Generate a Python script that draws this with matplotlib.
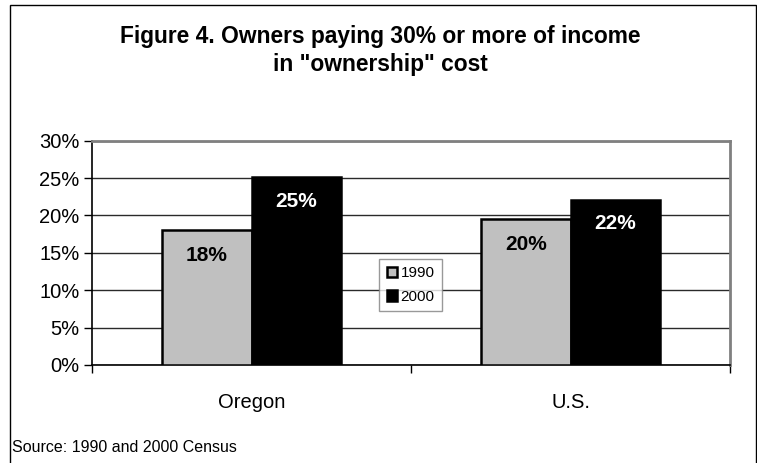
import matplotlib
matplotlib.use("Agg")
import matplotlib.pyplot as plt
import numpy as np
from matplotlib.patches import Rectangle

plt.rcParams['font.family'] = ['Liberation Sans', 'DejaVu Sans']

# data
places = ["Oregon", "U.S."]
years = ["1990", "2000"]
pct_1990 = [18.0, 19.5]
pct_2000 = [25.1, 22.1]
labels_1990 = ["18%", "20%"]
labels_2000 = ["25%", "22%"]

fig = plt.figure(figsize=(7.57, 4.63), dpi=100)
W, H = 757, 463
ax = fig.add_axes([92/W, 1-365/H, (730-92)/W, (365-140.7)/H])

x = np.arange(len(places))
w = 0.28
b1 = ax.bar(x - w/2, pct_1990, w, color="#c0c0c0", edgecolor="black", linewidth=1.8, label=years[0], zorder=3)
b2 = ax.bar(x + w/2, pct_2000, w, color="black", edgecolor="black", linewidth=1.8, label=years[1], zorder=3)

for rect, lab in zip(b1, labels_1990):
    ax.annotate(lab, (rect.get_x() + rect.get_width()/2, rect.get_height()),
                xytext=(0, -25), textcoords="offset pixels", ha="center", va="center",
                fontsize=15, fontweight="bold", color="black", zorder=4)
for rect, lab in zip(b2, labels_2000):
    ax.annotate(lab, (rect.get_x() + rect.get_width()/2, rect.get_height()),
                xytext=(0, -24), textcoords="offset pixels", ha="center", va="center",
                fontsize=15, fontweight="bold", color="white", zorder=4)

ax.set_xlim(-0.5, 1.5)
ax.set_ylim(0, 30)
ax.set_yticks(np.arange(0, 31, 5))
ax.set_yticklabels([f"{v}%" for v in range(0, 31, 5)], fontsize=14.5)
ax.yaxis.grid(True, color="#2a2a2a", linewidth=1, zorder=0)
ax.set_axisbelow(True)

ax.set_xticks(x)
ax.set_xticklabels(places, fontsize=14.5)
ax.tick_params(axis="x", which="major", length=0, pad=20)
ax.set_xticks([-0.5, 0.5, 1.5], minor=True)
ax.tick_params(axis="x", which="minor", length=6, width=1, direction="out")
ax.tick_params(axis="y", length=6, width=1, direction="out", pad=3)

for s in ["top", "right"]:
    ax.spines[s].set_color("#808080")
    ax.spines[s].set_linewidth(2)
for s in ["left", "bottom"]:
    ax.spines[s].set_color("black")
    ax.spines[s].set_linewidth(1.2)

leg = ax.legend(loc="center", bbox_to_anchor=(410.5/W, 1-285/H), bbox_transform=fig.transFigure,
                fontsize=11, frameon=True, fancybox=False, edgecolor="#808080",
                handlelength=0.7, handleheight=0.7, handletextpad=0.2, borderpad=0.5,
                labelspacing=0.6, borderaxespad=0)
leg.get_frame().set_linewidth(1)

fig.text(380.5/W, 1-36/H, 'Figure 4. Owners paying 30% or more of income',
         ha="center", va="center", fontsize=16.4, fontweight="bold")
fig.text(380.5/W, 1-65/H, 'in "ownership" cost',
         ha="center", va="center", fontsize=16.4, fontweight="bold")
fig.text(12/W, 1-447/H, "Source: 1990 and 2000 Census", ha="left", va="center", fontsize=11.5)

fig.patches.append(Rectangle((10/W, -0.05), (756-10)/W, 1.05 - 5/H, transform=fig.transFigure,
                             fill=False, edgecolor="black", linewidth=1))

fig.savefig("out.png", dpi=100)
